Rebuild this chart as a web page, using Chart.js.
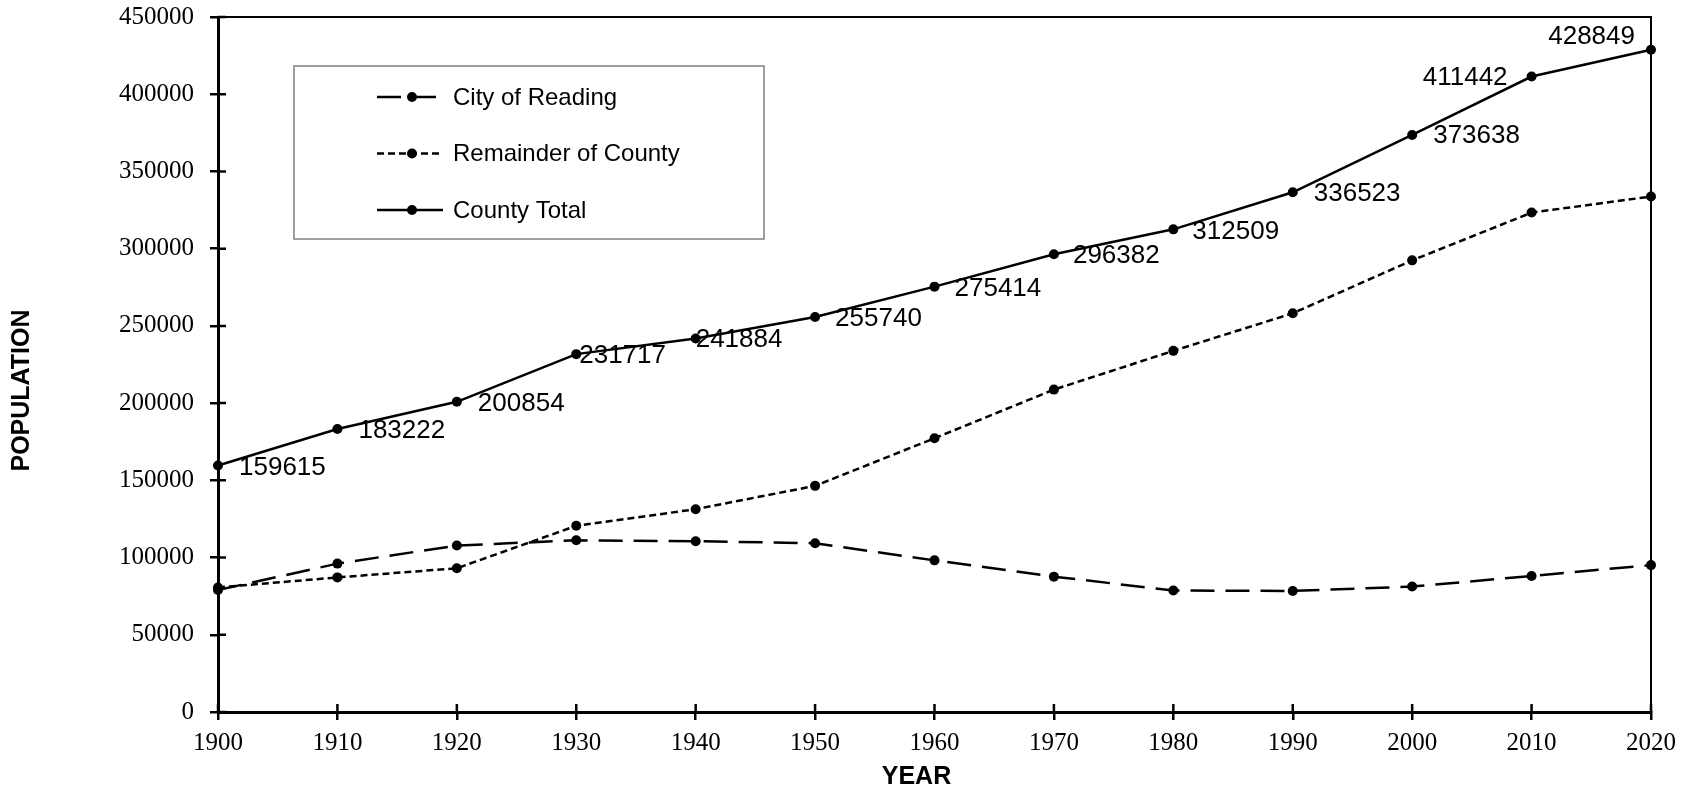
<!DOCTYPE html>
<html>
<head>
<meta charset="utf-8">
<script src="https://cdn.jsdelivr.net/npm/chart.js@4/dist/chart.umd.min.js"></script>
<style>
    body { margin: 0; background: #fff; }
    #wrap { width: 1694px; height: 789px; position: relative; }
</style>
</head>
<body>
<div id="wrap"><canvas id="popChart"></canvas></div>
<script>
// census years and population series
const years = ["1900", "1910", "1920", "1930", "1940", "1950", "1960", "1970", "1980", "1990", "2000", "2010", "2020"];
const cityOfReading = [78961, 96071, 107784, 111171, 110568, 109320, 98177, 87643, 78686, 78380, 81207, 88082, 95112];
const remainderOfCounty = [80654, 87151, 93070, 120546, 131316, 146420, 177237, 208739, 233823, 258143, 292431, 323360, 333737];
const countyTotal = [159615, 183222, 200854, 231717, 241884, 255740, 275414, 296382, 312509, 336523, 373638, 411442, 428849];
const yTicks = { min: 0, max: 450000, step: 50000 };

// where each County Total label sits relative to its point [dx, dy, align]
const labelPlacement = [
    [21, 2, "left"], [21, 2, "left"], [21, 2, "left"], [3, 2, "left"], [0, 1, "left"],
    [20, 2, "left"], [20, 2, "left"], [19, 2, "left"], [19, 2, "left"], [21, 2, "left"],
    [21, 1, "left"], [-24, 1, "right"], [-16, -13, "right"]
];

const SANS = "'Liberation Sans', Arial, sans-serif";
const SERIF = "'Liberation Serif', 'Times New Roman', serif";

// frame, inner tick marks, axis titles, value labels and the boxed legend
const decorPlugin = {
    id: "decor",
    afterDatasetsDraw(chart) {
        const ctx = chart.ctx;
        const area = chart.chartArea;
        const xs = chart.scales.x;
        const ys = chart.scales.y;
        ctx.save();

        // top and right border of the plot
        ctx.strokeStyle = "#000";
        ctx.lineWidth = 2;
        ctx.beginPath();
        ctx.moveTo(area.left, area.top);
        ctx.lineTo(area.right, area.top);
        ctx.lineTo(area.right, area.bottom);
        ctx.stroke();

        // ticks crossing into the plot
        ctx.lineWidth = 2.5;
        ctx.beginPath();
        ys.ticks.forEach((t) => {
            const y = ys.getPixelForValue(t.value);
            ctx.moveTo(area.left, y);
            ctx.lineTo(area.left + 8, y);
        });
        years.forEach((yr, i) => {
            const x = xs.getPixelForValue(i);
            ctx.moveTo(x, area.bottom);
            ctx.lineTo(x, area.bottom - 8);
        });
        ctx.stroke();

        // value labels on the County Total line
        const meta = chart.getDatasetMeta(2);
        ctx.fillStyle = "#000";
        ctx.font = "26px " + SANS;
        ctx.textBaseline = "middle";
        meta.data.forEach((pt, i) => {
            const p = labelPlacement[i];
            ctx.textAlign = p[2];
            ctx.fillText(String(countyTotal[i]), pt.x + p[0], pt.y + p[1]);
        });

        // axis titles
        ctx.font = "bold 25px " + SANS;
        ctx.textAlign = "center";
        ctx.fillText("YEAR", area.left + (area.right - area.left) / 2 - 18, 777);
        ctx.translate(22, area.top + (area.bottom - area.top) / 2 + 26);
        ctx.rotate(-Math.PI / 2);
        ctx.fillText("POPULATION", 0, 0);
        ctx.restore();

        // legend box
        ctx.save();
        const bx = area.left + 76;
        const by = area.top + 49;
        ctx.fillStyle = "#fff";
        ctx.fillRect(bx, by, 470, 173);
        ctx.strokeStyle = "#808080";
        ctx.lineWidth = 1.5;
        ctx.strokeRect(bx, by, 470, 173);
        ctx.font = "24px " + SANS;
        ctx.textAlign = "left";
        ctx.textBaseline = "middle";
        chart.data.datasets.forEach((ds, i) => {
            const rowY = by + 31 + i * 56.5;
            ctx.strokeStyle = "#000";
            ctx.lineWidth = ds.borderWidth;
            ctx.setLineDash(ds.borderDash || []);
            ctx.beginPath();
            ctx.moveTo(bx + 83, rowY);
            ctx.lineTo(bx + 149, rowY);
            ctx.stroke();
            ctx.setLineDash([]);
            ctx.fillStyle = "#000";
            ctx.beginPath();
            ctx.arc(bx + 118, rowY, 5, 0, Math.PI * 2);
            ctx.fill();
            ctx.fillText(ds.label, bx + 159, rowY + 1);
        });
        ctx.restore();
    },
};

const ctx = document.getElementById("popChart").getContext("2d");
const popChart = new Chart(ctx, {
    type: "line",
    data: {
        labels: years,
        datasets: [
            {
                label: "City of Reading",
                data: cityOfReading,
                borderColor: "#000",
                backgroundColor: "#000",
                borderWidth: 2.5,
                borderDash: [24, 11],
                pointRadius: 5,
                pointBorderWidth: 0,
                tension: 0,
            },
            {
                label: "Remainder of County",
                data: remainderOfCounty,
                borderColor: "#000",
                backgroundColor: "#000",
                borderWidth: 2.5,
                borderDash: [7, 4],
                pointRadius: 5,
                pointBorderWidth: 0,
                tension: 0,
            },
            {
                label: "County Total",
                data: countyTotal,
                borderColor: "#000",
                backgroundColor: "#000",
                borderWidth: 2.5,
                pointRadius: 5,
                pointBorderWidth: 0,
                tension: 0,
            },
        ],
    },
    options: {
        responsive: true,
        maintainAspectRatio: false,
        animation: false,
        layout: {
            padding: { top: 17, right: 43, left: 0, bottom: 0 },
        },
        scales: {
            x: {
                type: "category",
                offset: false,
                afterFit: (scale) => {
                    scale.height = 77;
                    scale.paddingLeft = 0;
                    scale.paddingRight = 0;
                },
                border: { display: true, color: "#000", width: 3 },
                grid: { drawOnChartArea: false, drawTicks: true, tickLength: 8, color: "#000", lineWidth: 2.5 },
                ticks: {
                    color: "#000",
                    font: { family: SERIF, size: 25 },
                    padding: 8,
                    maxRotation: 0,
                    autoSkip: false,
                },
            },
            y: {
                min: yTicks.min,
                max: yTicks.max,
                afterFit: (scale) => {
                    scale.width = 218;
                    scale.paddingTop = 0;
                    scale.paddingBottom = 0;
                },
                border: { display: true, color: "#000", width: 3 },
                grid: { drawOnChartArea: false, drawTicks: true, tickLength: 8, color: "#000", lineWidth: 2.5 },
                ticks: {
                    stepSize: yTicks.step,
                    color: "#000",
                    font: { family: SERIF, size: 25 },
                    padding: 16,
                    callback: (v) => String(v),
                },
            },
        },
        plugins: {
            legend: { display: false },
            tooltip: { enabled: false },
        },
    },
    plugins: [decorPlugin],
});
</script>
</body>
</html>
